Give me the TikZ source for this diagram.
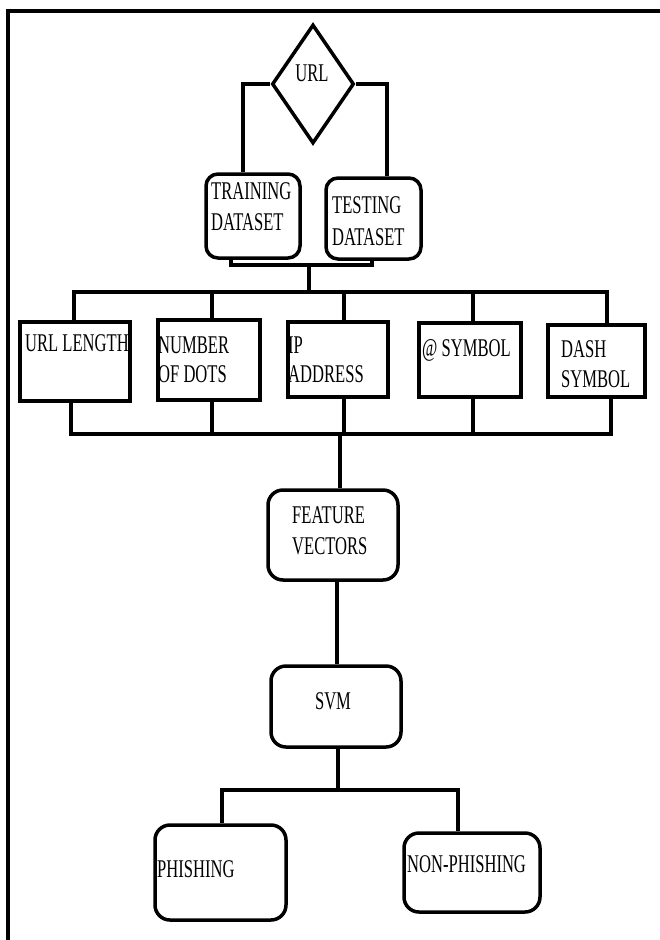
\documentclass[tikz,border=0pt]{standalone}
\usepackage{fontspec}
\setmainfont{Liberation Serif}[FakeStretch=0.65]
\usetikzlibrary{shapes.geometric,calc}
\tikzset{
  lw/.style={line width=3.5pt},
  sqbox/.style={draw, lw, rectangle, inner sep=0pt},
  rdbox/.style={draw, lw, rectangle, rounded corners=13pt, inner sep=0pt},
  conn/.style={lw, line join=miter},
  lbl/.style={anchor=base west, inner sep=0pt, font=\fontsize{25.5}{30}\selectfont},
}
\begin{document}
\begin{tikzpicture}[x=1pt, y=-1pt]
\useasboundingbox (0,0) rectangle (660,940);
% frame
\draw[line width=4.5pt] (6,11) -- (660,11);
\draw[line width=3.5pt] (8,9) -- (8,940);

% diamond
\node[draw, lw, diamond, minimum width=82pt, minimum height=119pt, inner sep=0pt] (url) at (313,84) {};
\node[lbl, anchor=base] (urlt) at (312,81) {URL};

% datasets
\node[rdbox, rounded corners=12pt, minimum width=94pt, minimum height=84pt] (train) at (253,216) {};
\node[lbl] (traint1) at (211,199) {TRAINING};
\node[lbl] (traint2) at (211,230) {DATASET};
\node[rdbox, rounded corners=12pt, minimum width=95pt, minimum height=81pt] (test) at (373.5,218.5) {};
\node[lbl] (testt1) at (332,213) {TESTING};
\node[lbl] (testt2) at (332,245) {DATASET};

\draw[conn] (url.west) -| ([xshift=-10pt]train.north);
\draw[conn] (url.east) -| ([xshift=13.5pt]test.north);

\coordinate (j1) at (309,265);
\draw[conn] ([xshift=-22pt]train.south) |- (j1) -| ([xshift=-1.5pt]test.south);

% feature boxes
\node[sqbox, minimum width=110pt, minimum height=79pt] (ulen) at (75,361.5) {};
\node[lbl] (ulent) at (25,351) {URL LENGTH};
\node[sqbox, minimum width=102pt, minimum height=80pt] (ndots) at (209,360) {};
\node[lbl] (ndotst1) at (158,353) {NUMBER};
\node[lbl] (ndotst2) at (158,382) {OF DOTS};
\node[sqbox, minimum width=100pt, minimum height=75pt] (ip) at (338,359.5) {};
\node[lbl] (ipt1) at (288,353) {IP};
\node[lbl] (ipt2) at (288,382) {ADDRESS};
\node[sqbox, minimum width=102pt, minimum height=74pt] (at) at (470,360) {};
\node[lbl] (att) at (422,356) {@ SYMBOL};
\node[sqbox, minimum width=97pt, minimum height=72pt] (dash) at (596.5,361) {};
\node[lbl] (dasht1) at (561,357) {DASH};
\node[lbl] (dasht2) at (561,387) {SYMBOL};

% top bus
\coordinate (tbL) at (74,292);
\coordinate (tbR) at (607,292);
\draw[conn] (j1) -- (j1 |- tbL);
\draw[conn] ([xshift=-1pt]ulen.north) |- (tbR) -- ([xshift=10.5pt]dash.north);
\draw[conn] ([xshift=3pt]ndots.north) -- ([xshift=3pt]ndots.north |- tbL);
\draw[conn] ([xshift=6pt]ip.north) -- ([xshift=6pt]ip.north |- tbL);
\draw[conn] ([xshift=3pt]at.north) -- ([xshift=3pt]at.north |- tbL);

% bottom bus
\coordinate (bbL) at (71,434);
\coordinate (bbR) at (611,434);
\draw[conn] ([xshift=-4pt]ulen.south) |- (bbR) -- ([xshift=14.5pt]dash.south);
\draw[conn] ([xshift=3pt]ndots.south) -- ([xshift=3pt]ndots.south |- bbL);
\draw[conn] ([xshift=6pt]ip.south) -- ([xshift=6pt]ip.south |- bbL);
\draw[conn] ([xshift=3pt]at.south) -- ([xshift=3pt]at.south |- bbL);

% feature vectors
\node[rdbox, rounded corners=15pt, minimum width=130pt, minimum height=90pt] (feat) at (333,535) {};
\node[lbl] (featt1) at (292,523) {FEATURE};
\node[lbl] (featt2) at (292,554) {VECTORS};
\draw[conn] ([xshift=7pt]feat.north) -- ([xshift=7pt]feat.north |- bbL);

% svm
\node[rdbox, rounded corners=15pt, minimum width=130pt, minimum height=81pt] (svm) at (336,706.5) {};
\node[lbl, anchor=base] (svmt) at (333,709) {SVM};
\draw[conn] ([xshift=4pt]feat.south) -- ([xshift=4pt]feat.south |- svm.north);

% outputs
\node[rdbox, rounded corners=15pt, minimum width=131pt, minimum height=95pt] (phish) at (220.5,872.5) {};
\node[lbl] (phisht) at (157,877) {PHISHING};
\node[rdbox, rounded corners=15pt, minimum width=136pt, minimum height=79pt] (nphish) at (472,872.5) {};
\node[lbl] (nphisht) at (407,872) {NON-PHISHING};

\coordinate (ob) at (338,790);
\draw[conn] ([xshift=2pt]svm.south) -- ([xshift=2pt]svm.south |- ob);
\draw[conn] ([xshift=1.5pt]phish.north) |- (ob) -| ([xshift=-14pt]nphish.north);
\end{tikzpicture}
\end{document}
